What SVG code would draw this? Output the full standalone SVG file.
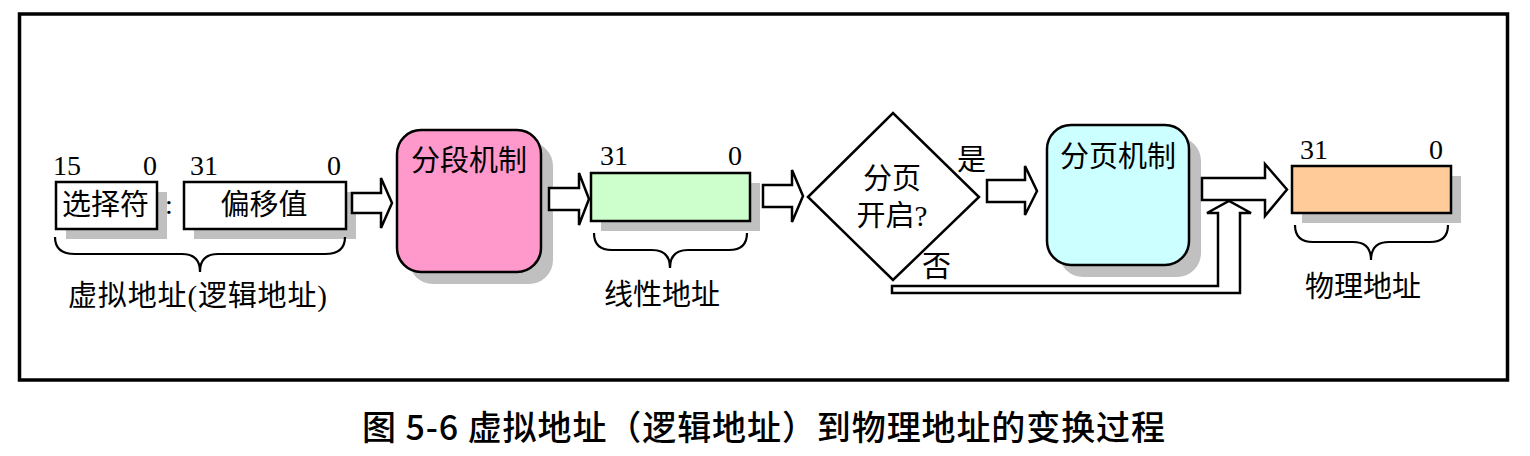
<svg xmlns="http://www.w3.org/2000/svg" width="1530" height="456" viewBox="0 0 1530 456">
<style>
.t{font-family:"Liberation Serif","Noto Sans CJK SC",serif;font-size:29px;fill:#000}
.n{font-family:"Liberation Serif",serif;font-size:28px;fill:#000}
.box{stroke:#000;stroke-width:2.5}
.sh{fill:#c0c0c0}
.arr{fill:#fff;stroke:#000;stroke-width:2.5;stroke-linejoin:miter}
.br{fill:none;stroke:#000;stroke-width:2.2}
.cap{font-family:"Noto Sans CJK SC","Noto Sans",sans-serif;font-size:34px;font-weight:500;fill:#000}
</style>
<rect width="1530" height="456" fill="#fff"/>
<rect x="19.5" y="14" width="1488" height="366" fill="none" stroke="#000" stroke-width="3.5"/>

<g id="selector">
<rect class="sh" x="66" y="192" width="101" height="47"/>
<rect class="box" x="56" y="182" width="101" height="47" fill="#fff"/>
<text class="t" x="62" y="215">选择符</text>
<text class="n" x="53" y="175">15</text>
<text class="n" x="143" y="175">0</text>
</g>
<g id="colon"><text class="n" x="165" y="214">:</text></g>
<g id="offset">
<rect class="sh" x="194" y="192" width="162" height="47"/>
<rect class="box" x="184" y="182" width="162" height="47" fill="#fff"/>
<text class="t" x="264" y="215" text-anchor="middle">偏移值</text>
<text class="n" x="190" y="175">31</text>
<text class="n" x="327" y="175">0</text>
</g>
<g id="virtual-label">
<path class="br" d="M55,237 Q55,254 75,254 L182,254 Q200,254 200,272 Q200,254 218,254 L325,254 Q345,254 345,237"/>
<text class="t" x="68" y="306" textLength="259" lengthAdjust="spacing">虚拟地址(逻辑地址)</text>
</g>

<g id="segmentation">
<rect class="sh" x="409" y="142" width="144" height="142" rx="24"/>
<rect class="box" x="397" y="130" width="144" height="142" rx="24" fill="#ff99cc"/>
<text class="t" x="469" y="171" text-anchor="middle">分段机制</text>
</g>

<g id="linear">
<rect class="sh" x="601" y="183" width="159" height="48"/>
<rect class="box" x="591" y="173" width="159" height="48" fill="#ccffcc"/>
<text class="n" x="600" y="165">31</text>
<text class="n" x="728" y="165">0</text>
<path class="br" d="M594,233 Q594,250 612,250 L652,250 Q670,250 670,268 Q670,250 688,250 L729,250 Q747,250 747,233"/>
<text class="t" x="662" y="305" text-anchor="middle">线性地址</text>
</g>

<g id="decision">
<polygon class="box" points="808,197 893,113 979,197 893,280" fill="#fff"/>
<text class="t" x="892" y="189" text-anchor="middle">分页</text>
<text class="t" x="892" y="226" text-anchor="middle">开启?</text>
<text class="t" x="957" y="170">是</text>
<text class="t" x="922" y="277">否</text>
</g>

<g id="paging">
<rect class="sh" x="1059" y="137" width="142" height="140" rx="24"/>
<rect class="box" x="1047" y="125" width="142" height="140" rx="24" fill="#ccffff"/>
<text class="t" x="1118" y="167" text-anchor="middle">分页机制</text>
</g>

<g id="physical">
<rect class="sh" x="1302" y="176" width="159" height="47"/>
<rect class="box" x="1292" y="166" width="159" height="47" fill="#ffcc99"/>
<text class="n" x="1300" y="159">31</text>
<text class="n" x="1429" y="159">0</text>
<path class="br" d="M1295,225 Q1295,242 1313,242 L1353,242 Q1371,242 1371,260 Q1371,242 1389,242 L1430,242 Q1448,242 1448,225"/>
<text class="t" x="1363" y="297" text-anchor="middle">物理地址</text>
</g>

<g id="connectors">
<polygon class="arr" points="352,193 381,193 381,178 392,203 381,228 381,213 352,213"/>
<polygon class="arr" points="549,188 579,188 579,173 589,199 579,225 579,210 549,210"/>
<polygon class="arr" points="763,185 792,185 792,170 803,196 792,222 792,207 763,207"/>
<polygon class="arr" points="987,180 1025,180 1025,166 1037,191 1025,215 1025,202 987,202"/>
<polygon class="arr" points="1202,178 1265,178 1265,164 1287,189.5 1265,216 1265,200 1202,200"/>
<polygon class="arr" points="892,286 1218,286 1218,213 1207,213 1229,201 1251,213 1240,213 1240,293 892,293"/>
</g>

<g id="caption">
<text class="cap" x="362" y="440" textLength="803" lengthAdjust="spacing">图 5-6 虚拟地址（逻辑地址）到物理地址的变换过程</text>
</g>
</svg>
